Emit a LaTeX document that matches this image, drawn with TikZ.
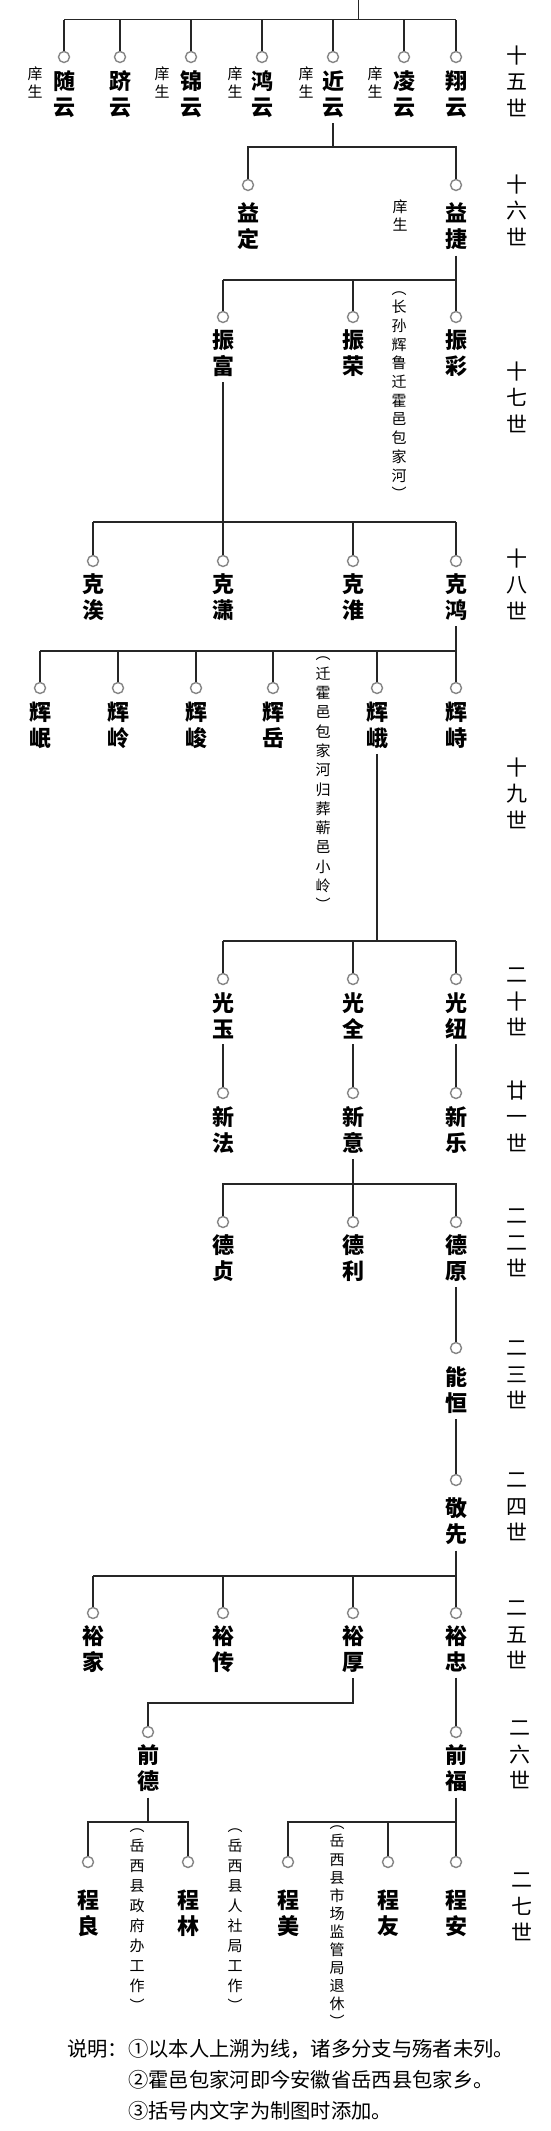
\documentclass[tikz,border=0pt]{standalone}
\usepackage{fontspec}
\newfontfamily\cjk{Noto Sans CJK SC}
\newcommand\pers[6]{\node[dot] (c#1) at (#2,#3) {};\node[nm] (n#1) at (#2,#4) {#5\\#6};}
\begin{document}
\begin{tikzpicture}[x=1pt,y=-1pt,
  line/.style={draw=black!85, line width=1.3pt},
  dot/.style={circle, draw=black!48, line width=1.4pt, fill=white, minimum size=11pt, inner sep=0pt},
  nm/.style={font=\cjk\bfseries\fontsize{22}{26}\selectfont, align=center, inner sep=0pt, outer ysep=5.5pt},
  gen/.style={font=\cjk\fontsize{21}{26.5}\selectfont, align=center, inner sep=0pt},
  xs/.style={font=\cjk\fontsize{15}{18}\selectfont, align=center, inner sep=0pt},
  note/.style={font=\cjk\fontsize{15}{#1}\selectfont, align=center, inner sep=0pt},
  foot/.style={font=\cjk\fontsize{20.3}{24}\selectfont, inner sep=0pt},
]
\useasboundingbox (0,0) rectangle (550,2131);
% ---- generation labels
\node[gen] (g15) at (517,81) {十\\五\\世};
\node[gen] (g16) at (517,210) {十\\六\\世};
\node[gen] (g17) at (517,397) {十\\七\\世};
\node[gen] (g18) at (517,584) {十\\八\\世};
\node[gen] (g19) at (517,793) {十\\九\\世};
\node[gen] (g20) at (517,1002) {二\\十\\世};
\node[gen] (g21) at (517,1116) {廿\\一\\世};
\node[gen] (g22) at (517,1243) {二\\二\\世};
\node[gen] (g23) at (517,1375) {二\\三\\世};
\node[gen] (g24) at (517,1507) {二\\四\\世};
\node[gen] (g25) at (517,1635) {二\\五\\世};
\node[gen] (g26) at (520,1755) {二\\六\\世};
\node[gen] (g27) at (522,1907) {二\\七\\世};
% ---- 15th
\pers{15a}{64}{57}{94}{随}{云}
\pers{15b}{120}{57}{94}{跻}{云}
\pers{15c}{191}{57}{94}{锦}{云}
\pers{15d}{262}{57}{94}{鸿}{云}
\pers{15e}{333}{57}{94}{近}{云}
\pers{15f}{404}{57}{94}{凌}{云}
\pers{15g}{456}{57}{94}{翔}{云}
\node[xs] (x15a) at (35,82) {庠\\生};
\node[xs] (x15c) at (162,82) {庠\\生};
\node[xs] (x15d) at (235,82) {庠\\生};
\node[xs] (x15e) at (306,82) {庠\\生};
\node[xs] (x15f) at (375,82) {庠\\生};
\coordinate (top) at (358.5,0);
\coordinate (b15) at (0,19.5);
\draw[line] (top) -- (top |- b15);
\draw[line] (b15 -| c15a) -- (b15 -| c15g);
\foreach \i in {a,b,c,d,e,f,g} \draw[line] (c15\i.north) -- (c15\i.north |- b15);
% ---- 16th
\pers{16a}{248}{185}{226.5}{益}{定}
\pers{16b}{456}{185}{226.5}{益}{捷}
\node[xs] (x16b) at (400,215.5) {庠\\生};
\coordinate (b16) at (0,147);
\draw[line] (n15e.south) -- (n15e.south |- b16);
\draw[line] (c16a.north) |- (b16 -| c16b) -- (c16b.north);
% ---- 17th
\pers{17a}{223}{317}{353.5}{振}{富}
\pers{17b}{353}{317}{353.5}{振}{荣}
\pers{17c}{456}{317}{353.5}{振}{彩}
\node[note=18.7] (na) at (399,395.5) {︵\\长\\孙\\辉\\鲁\\迁\\霍\\邑\\包\\家\\河\\︶};
\coordinate (b17) at (0,280);
\draw[line] (n16b.south) -- (n16b.south |- b17);
\draw[line] (b17 -| c17a) -- (b17 -| c17c);
\foreach \i in {a,b,c} \draw[line] (c17\i.north) -- (c17\i.north |- b17);
% ---- 18th
\pers{18a}{93}{561}{597.5}{克}{涘}
\pers{18b}{223}{561}{597.5}{克}{潇}
\pers{18c}{353}{561}{597.5}{克}{淮}
\pers{18d}{456}{561}{597.5}{克}{鸿}
\coordinate (b18) at (0,522);
\draw[line] (n17a.south) -- (n17a.south |- b18);
\draw[line] (b18 -| c18a) -- (b18 -| c18d);
\foreach \i in {a,b,c,d} \draw[line] (c18\i.north) -- (c18\i.north |- b18);
% ---- 19th
\pers{19a}{40}{688}{725}{辉}{岷}
\pers{19b}{118}{688}{725}{辉}{岭}
\pers{19c}{196}{688}{725}{辉}{峻}
\pers{19d}{273}{688}{725}{辉}{岳}
\pers{19e}{377}{688}{725}{辉}{峨}
\pers{19f}{456}{688}{725}{辉}{峙}
\node[note=19.3] (nb) at (323,784) {︵\\迁\\霍\\邑\\包\\家\\河\\归\\葬\\蕲\\邑\\小\\岭\\︶};
\coordinate (b19) at (0,651);
\draw[line] (n18d.south) -- (n18d.south |- b19);
\draw[line] (b19 -| c19a) -- (b19 -| c19f);
\foreach \i in {a,b,c,d,e,f} \draw[line] (c19\i.north) -- (c19\i.north |- b19);
% ---- 20th
\pers{20a}{223}{979}{1015.5}{光}{玉}
\pers{20b}{353}{979}{1015.5}{光}{全}
\pers{20c}{456}{979}{1015.5}{光}{纽}
\coordinate (b20) at (0,941);
\draw[line] (n19e.south) -- (n19e.south |- b20);
\draw[line] (b20 -| c20a) -- (b20 -| c20c);
\foreach \i in {a,b,c} \draw[line] (c20\i.north) -- (c20\i.north |- b20);
% ---- 21st
\pers{21a}{223}{1093}{1130}{新}{法}
\pers{21b}{353}{1093}{1130}{新}{意}
\pers{21c}{456}{1093}{1130}{新}{乐}
\foreach \i in {a,b,c} \draw[line] (n20\i.south) -- (c21\i.north);
% ---- 22nd
\pers{22a}{223}{1222}{1258.5}{德}{贞}
\pers{22b}{353}{1222}{1258.5}{德}{利}
\pers{22c}{456}{1222}{1258.5}{德}{原}
\coordinate (b22) at (0,1184);
\draw[line] (n21b.south) -- (c22b.north);
\draw[line] (c22a.north) |- (b22 -| c22c) -- (c22c.north);
% ---- 23rd, 24th
\pers{23a}{456}{1348}{1390}{能}{恒}
\pers{24a}{456}{1480}{1521.5}{敬}{先}
\draw[line] (n22c.south) -- (c23a.north);
\draw[line] (n23a.south) -- (c24a.north);
% ---- 25th
\pers{25a}{93}{1613}{1649}{裕}{家}
\pers{25b}{223}{1613}{1649}{裕}{传}
\pers{25c}{353}{1613}{1649}{裕}{厚}
\pers{25d}{456}{1613}{1649}{裕}{忠}
\coordinate (b25) at (0,1576);
\draw[line] (n24a.south) -- (n24a.south |- b25);
\draw[line] (b25 -| c25a) -- (b25 -| c25d);
\foreach \i in {a,b,c,d} \draw[line] (c25\i.north) -- (c25\i.north |- b25);
% ---- 26th
\pers{26a}{148}{1732}{1768.5}{前}{德}
\pers{26b}{456}{1732}{1768.5}{前}{福}
\coordinate (b26) at (0,1703);
\draw[line] (n25c.south) |- (b26 -| c26a) -- (c26a.north);
\draw[line] (n25d.south) -- (c26b.north);
% ---- 27th
\pers{27a}{88}{1862}{1913}{程}{良}
\pers{27b}{188}{1862}{1913}{程}{林}
\pers{27c}{288}{1862}{1913}{程}{美}
\pers{27d}{388}{1862}{1913}{程}{友}
\pers{27e}{456}{1862}{1913}{程}{安}
\coordinate (b27) at (0,1822);
\draw[line] (n26a.south) -- (n26a.south |- b27);
\draw[line] (n26b.south) -- (n26b.south |- b27);
\draw[line] (c27a.north) |- (b27 -| c27b) -- (c27b.north);
\draw[line] (c27c.north) |- (b27 -| c27e) -- (c27e.north);
\draw[line] (c27d.north) -- (c27d.north |- b27);
\node[note=20] (nc) at (137,1920) {︵\\岳\\西\\县\\政\\府\\办\\工\\作\\︶};
\node[note=20] (nd) at (235,1920) {︵\\岳\\西\\县\\人\\社\\局\\工\\作\\︶};
\node[note=18.1] (ne) at (337,1927) {︵\\岳\\西\\县\\市\\场\\监\\管\\局\\退\\休\\︶};
% ---- footnote
\node[foot, anchor=west] (sm) at (67,2049) {说明：};
\node[foot, anchor=west] (f1) at (128,2049) {①以本人上溯为线，诸多分支与殇者未列。};
\node[foot, anchor=west] (f2) at (128,2080) {②霍邑包家河即今安徽省岳西县包家乡。};
\node[foot, anchor=west] (f3) at (128,2111) {③括号内文字为制图时添加。};
\end{tikzpicture}
\end{document}
